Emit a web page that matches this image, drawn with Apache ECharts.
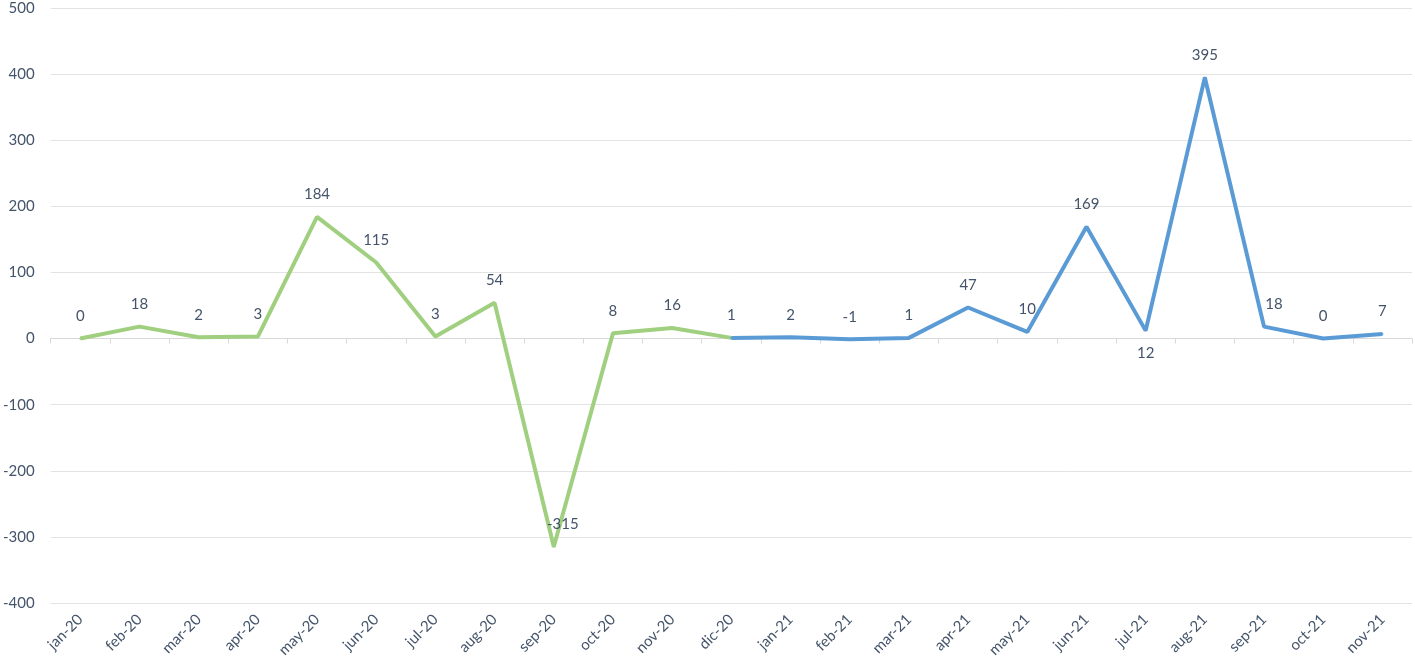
<!DOCTYPE html>
<html>
<head>
<meta charset="utf-8">
<script src="https://cdn.jsdelivr.net/npm/echarts@6/dist/echarts.min.js"></script>
<style>html,body{margin:0;padding:0;background:#fff}#c{width:1415px;height:664px}</style>
</head>
<body>
<div id="c"></div>
<script>
const categories = ['jan-20','feb-20','mar-20','apr-20','may-20','jun-20','jul-20','aug-20','sep-20','oct-20','nov-20','dic-20','jan-21','feb-21','mar-21','apr-21','may-21','jun-21','jul-21','aug-21','sep-21','oct-21','nov-21'];
const values2020 = [0,18,2,3,184,115,3,54,-315,8,16,1];
const values2021 = [1,2,-1,1,47,10,169,12,395,18,0,7]; // dic-20 .. nov-21
const yTicks = {min:-400, max:500, interval:100};

const greenData = categories.map((c,i)=> i < values2020.length ? values2020[i] : null);
const blueData = categories.map((c,i)=> i >= 11 ? values2021[i-11] : null);

const textColor = '#44546a';
const font = 'Lato, "Open Sans", sans-serif';

function mkData(arr, skipFirstLabel){
  return arr.map((v,i)=>{
    if (v === null) return '-';
    const c = categories[i];
    if (skipFirstLabel && c === 'dic-20') return {value:v, label:{show:false}};
    if (c === 'jul-21') return {value:v, label:{position:'bottom'}};
    if (c === 'sep-20') return {value:v, label:{offset:[9,0]}};
    if (c === 'sep-21') return {value:v, label:{offset:[10,0]}};
    return {value:v};
  });
}

const labelStyle = {show:true, position:'top', distance:14, color:textColor, fontSize:15, fontFamily:font};

const chart = echarts.init(document.getElementById('c'));
chart.setOption({
  animation:false,
  grid:{left:48, right:3, top:8, bottom:61, containLabel:false},
  xAxis:[{
    type:'category', data:categories, position:'bottom', boundaryGap:true,
    axisLine:{show:false, onZero:false}, axisTick:{show:false},
    axisLabel:{rotate:45, color:textColor, fontSize:15, fontFamily:font, margin:14, interval:0}
  },{
    type:'category', data:categories, boundaryGap:true, position:'bottom',
    axisLine:{show:true, onZero:true, lineStyle:{color:'#d9d9d9', width:1}},
    axisTick:{show:true, length:5, lineStyle:{color:'#d9d9d9'}},
    axisLabel:{show:false}
  }],
  yAxis:{
    type:'value', min:yTicks.min, max:yTicks.max, interval:yTicks.interval,
    axisLine:{show:false}, axisTick:{show:false},
    axisLabel:{color:textColor, fontSize:15, fontFamily:font, margin:16},
    splitLine:{lineStyle:{color:'#e3e3e3', width:1}}
  },
  series:[{
    type:'line', data:mkData(greenData, false), xAxisIndex:0, showSymbol:true, symbol:'circle', symbolSize:2,
    lineStyle:{color:'#9fcf7f', width:4}, itemStyle:{color:'#9fcf7f'},
    label:labelStyle
  },{
    type:'line', data:mkData(blueData, true), xAxisIndex:0, showSymbol:true, symbol:'circle', symbolSize:2,
    lineStyle:{color:'#5b9bd5', width:4}, itemStyle:{color:'#5b9bd5'},
    label:labelStyle
  }]
});
</script>
</body>
</html>
